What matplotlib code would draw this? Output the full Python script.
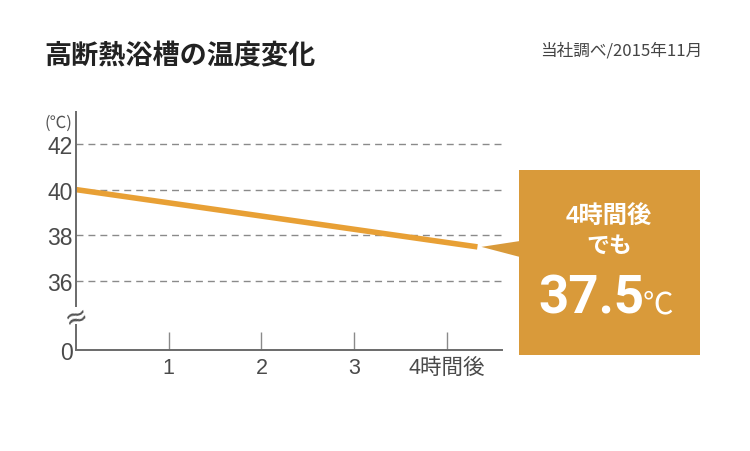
import matplotlib
matplotlib.use('Agg')
import matplotlib.pyplot as plt
from matplotlib import font_manager as fm
from matplotlib.patches import Polygon, Rectangle

# ---- data ----
hours = [0, 4.33]
temps = [40.0, 37.5]
y_ticks = [36, 38, 40, 42]
x_ticks = [1, 2, 3, 4]
x_labels = ['1', '2', '3', '4時間後']
zero_label = '0'
title = '高断熱浴槽の温度変化'
source = '当社調べ/2015年11月'
unit = '(℃)'
callout_lines = ['4時間後', 'でも']
callout_value = '37.5'
callout_unit = '℃'

BREAK_POS = 33.0   # where the "0" sits on the broken axis
BREAK_GAP = (34.15, 34.89)
Y_TOP = 43.43

W, H = 750, 452
fig = plt.figure(figsize=(W / 100, H / 100), dpi=100)
fig.patch.set_facecolor('white')

def fx(x):
    return x / W

def fy(y):
    return (H - y) / H

names = {f.name for f in fm.fontManager.ttflist}
NUM = ['Liberation Sans', 'Noto Sans CJK JP', 'DejaVu Sans']
CJK = ['Noto Sans CJK JP', 'DejaVu Sans']
if 'Liberation Sans Narrow' in names:
    BIG = ['Liberation Sans Narrow']
    big_size = 44
else:
    BIG = ['Roboto', 'DejaVu Sans']
    big_size = 38

ax = fig.add_axes([fx(76), fy(351), fx(502) - fx(76), fy(112) - fy(351)])
ax.set_xlim(0, 4.595)
ax.set_ylim(BREAK_POS, Y_TOP)
ax.set_facecolor('none')

AXIS_COL = '#6a6a6a'
for s in ['top', 'right', 'left']:
    ax.spines[s].set_visible(False)
ax.spines['bottom'].set_color(AXIS_COL)
ax.spines['bottom'].set_linewidth(1.4)

# left axis drawn in two parts around the break
ax.plot([0, 0], [BREAK_POS, BREAK_GAP[0]], color=AXIS_COL, lw=1.4,
        clip_on=False, solid_capstyle='butt', zorder=4)
ax.plot([0, 0], [BREAK_GAP[1], Y_TOP], color=AXIS_COL, lw=1.4,
        clip_on=False, solid_capstyle='butt', zorder=4)

# grid lines
ax.hlines(y_ticks, 0, 4.58, colors='#8a8a8a', linewidth=1.0,
          linestyles=(0, (5, 3.6)), zorder=1)

# line
ax.plot(hours, temps, color='#E8A035', linewidth=4.0,
        solid_capstyle='butt', zorder=3)

# y ticks
ax.set_yticks([BREAK_POS] + y_ticks)
ax.set_yticklabels([zero_label] + [str(v) for v in y_ticks],
                   family=NUM, fontsize=16.5, color='#4a4a4a')
ax.tick_params(axis='y', length=0, pad=2.5)

# x ticks
ax.set_xticks(x_ticks)
ax.set_xticklabels(x_labels, family=NUM, fontsize=15.5, color='#4a4a4a')
ax.tick_params(axis='x', direction='in', length=13, width=1.0,
               color='#8a8a8a', pad=5)

# break mark
ax.text(0, sum(BREAK_GAP) / 2 - 0.05, '≈', ha='center', va='center',
        fontsize=20, rotation=18, color='#555555', family=['DejaVu Sans'],
        zorder=5, clip_on=False)

# unit label
fig.text(fx(58), fy(123), unit, ha='center', va='center', fontsize=12,
         color='#555555', family=CJK)

# title & source
fig.text(fx(44), fy(56), title, ha='left', va='center', fontsize=19.5,
         weight='bold', color='#222222', family=CJK)
fig.text(fx(702), fy(51), source, ha='right', va='center', fontsize=12,
         color='#444444', family=CJK)

# callout box
box_color = '#D99A3A'
fig.patches.append(Rectangle((fx(519), fy(356)), fx(700) - fx(519),
                             fy(171) - fy(356), transform=fig.transFigure,
                             facecolor=box_color, edgecolor='none'))
fig.canvas.draw()
tip_disp = ax.transData.transform((hours[-1], temps[-1]))
tip = fig.transFigure.inverted().transform((tip_disp[0] + 4, tip_disp[1]))
fig.patches.append(Polygon([(tip[0], tip[1]), (fx(520), fy(242)),
                            (fx(520), fy(258))], closed=True,
                           transform=fig.transFigure,
                           facecolor=box_color, edgecolor='none'))

fig.text(fx(609), fy(217), callout_lines[0], ha='center', va='center',
         fontsize=17.5, weight='bold', color='white', family=NUM)
fig.text(fx(609), fy(246), callout_lines[1], ha='center', va='center',
         fontsize=16.5, weight='bold', color='white', family=CJK)
fig.text(fx(644), fy(313), callout_value, ha='right', va='baseline',
         fontsize=big_size, weight='bold', color='white', family=BIG)
fig.text(fx(643), fy(313), callout_unit, ha='left', va='baseline',
         fontsize=22, color='white', family=CJK)

fig.savefig('out.png', dpi=100, facecolor='white')
